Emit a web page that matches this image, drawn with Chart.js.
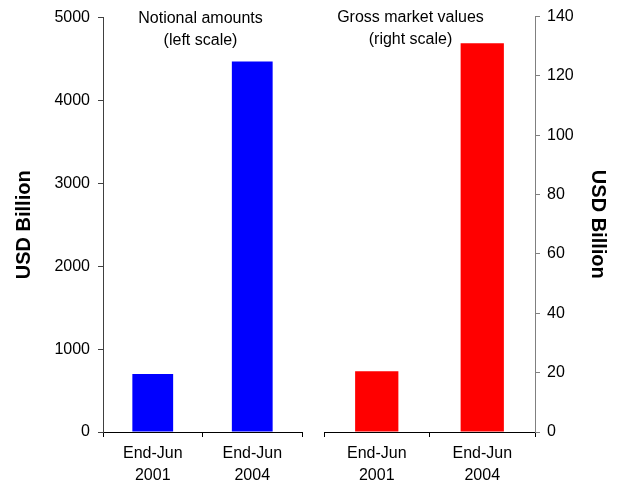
<!DOCTYPE html>
<html>
<head>
<meta charset="utf-8">
<script src="https://cdn.jsdelivr.net/npm/chart.js@4/dist/chart.umd.min.js"></script>
<style>
  html, body { margin: 0; padding: 0; background: #fff; }
  #wrap { position: relative; width: 618px; height: 485px; overflow: hidden; }
  #leftChart { position: absolute; left: 0; top: 0; }
  #rightChart { position: absolute; left: 313px; top: 0; }
</style>
</head>
<body>
<div id="wrap">
  <canvas id="leftChart" width="313" height="485"></canvas>
  <canvas id="rightChart" width="305" height="485"></canvas>
</div>
<script>
(function () {
  'use strict';

  const categories = [['End-Jun', '2001'], ['End-Jun', '2004']];
  const notional = [700, 4470];      // left scale
  const grossMarket = [20.5, 131];   // right scale
  const leftTicks = { min: 0, max: 5000, step: 1000 };
  const rightTicks = { min: 0, max: 140, step: 20 };
  const leftNote = ['Notional amounts', '(left scale)'];
  const rightNote = ['Gross market values', '(right scale)'];
  const axisTitle = 'USD Billion';

  const FONT = 'Liberation Sans, Arial, Helvetica, sans-serif';
  Chart.defaults.font.family = FONT;
  Chart.defaults.font.size = 16;
  Chart.defaults.color = '#000';

  // text inside the plot area, above the bars
  const notePlugin = {
    id: 'panelNote',
    afterDraw(ci, args, opts) {
      const { ctx, chartArea } = ci;
      const x = chartArea.left + chartArea.width * opts.xFrac;
      ctx.save();
      ctx.font = '16px ' + FONT;
      ctx.fillStyle = '#000';
      ctx.textAlign = 'center';
      ctx.textBaseline = 'middle';
      opts.lines.forEach((t, i) => ctx.fillText(t, x, chartArea.top + 1 + i * 22));
      ctx.restore();
    }
  };

  function xAxis() {
    return {
      type: 'category',
      offset: true,
      grid: { offset: true, drawOnChartArea: false, drawTicks: true, tickLength: 5, color: '#000' },
      border: { display: true, color: '#000', width: 1 },
      ticks: { color: '#000', padding: 6, maxRotation: 0, font: { size: 16, lineHeight: 1.36 } },
      afterFit(s) { s.height = 53; }
    };
  }

  function yAxis(pos, t, col, width) {
    return {
      position: pos,
      min: t.min,
      max: t.max,
      grid: { drawOnChartArea: false, drawTicks: true, tickLength: 5, color: col },
      border: { display: true, color: col, width: 1 },
      ticks: {
        stepSize: t.step,
        padding: pos === 'left' ? 8 : 7,
        color: '#000',
        font: { size: 16 },
        callback: v => String(v)
      },
      title: {
        display: true,
        text: axisTitle,
        color: '#000',
        font: { size: 20, weight: 'bold', lineHeight: 1.2 },
        padding: { top: pos === 'left' ? 12 : 8, bottom: 0 }
      },
      afterFit(s) { s.width = width; }
    };
  }

  function makeChart(canvas, values, color, yCfg, note, xFrac, pad) {
    return new Chart(canvas.getContext('2d'), {
      type: 'bar',
      data: {
        labels: categories,
        datasets: [{
          data: values,
          backgroundColor: color,
          borderWidth: 0,
          barPercentage: 0.41,
          categoryPercentage: 1
        }]
      },
      options: {
        responsive: false,
        animation: false,
        layout: { padding: pad },
        scales: { x: xAxis(), y: yCfg },
        plugins: {
          legend: { display: false },
          tooltip: { enabled: false },
          panelNote: { lines: note, xFrac: xFrac }
        }
      },
      plugins: [notePlugin]
    });
  }

  makeChart(document.getElementById('leftChart'), notional, '#0000ff',
    yAxis('left', leftTicks, '#404040', 103), leftNote, 0.49,
    { top: 15, left: 0, right: 11, bottom: 0 });

  makeChart(document.getElementById('rightChart'), grossMarket, '#ff0000',
    yAxis('right', rightTicks, '#808080', 83), rightNote, 0.41,
    { top: 15, left: 11, right: 0, bottom: 0 });
})();
</script>
</body>
</html>
